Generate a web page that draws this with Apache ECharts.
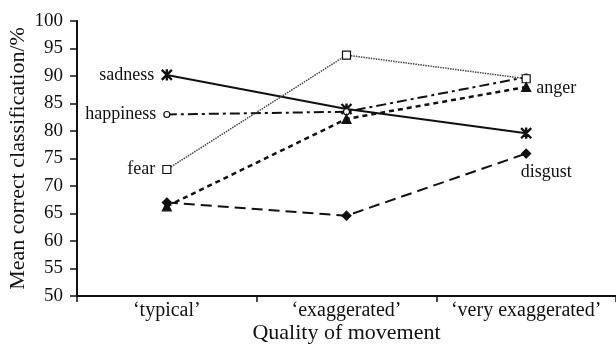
<!DOCTYPE html>
<html>
<head>
<meta charset="utf-8">
<script src="https://cdn.jsdelivr.net/npm/echarts@6/dist/echarts.min.js"></script>
<style>
  html, body { margin: 0; padding: 0; background: #fff; }
  #chart { width: 616px; height: 345px; }
</style>
</head>
<body>
<div id="chart"></div>
<script>
// Movement quality categories and mean correct classification (%) per emotion
const categories = ['\u2018typical\u2019', '\u2018exaggerated\u2019', '\u2018very exaggerated\u2019'];
const sadness   = [90.2, 84.0, 79.6];
const happiness = [83.0, 83.5, 89.8];
const fear      = [73.0, 93.8, 89.5];
const anger     = [66.3, 82.2, 88.0];
const disgust   = [67.0, 64.6, 75.9];
const yTicks = { min: 50, max: 100, interval: 5 };

const FONT = 'Liberation Serif';
const asterisk = 'path://M4.4 0 H5.6 V10 H4.4 Z M0 0.8 L0.8 0 L10 9.2 L9.2 10 Z M10 0.8 L9.2 0 L0 9.2 L0.8 10 Z';

// Attach a text label to one point of a series
function withLabel(values, idx, text, position, offset) {
  return values.map((v, i) => i === idx ? {
    value: v,
    label: {
      show: true, formatter: text, position: position, offset: offset || [0, 0],
      color: '#111', fontFamily: FONT, fontSize: 18
    }
  } : v);
}

function series(name, data, symbol, symbolSize, lineType, width, color, fill) {
  return {
    name: name, type: 'line', data: data,
    symbol: symbol, symbolSize: symbolSize, showSymbol: true,
    lineStyle: { color: color || '#111', width: width, type: lineType },
    itemStyle: { color: fill || '#111', borderColor: '#111', borderWidth: 1.2 },
    emphasis: { disabled: true },
    animation: false, z: 3
  };
}

const chart = echarts.init(document.getElementById('chart'), null, { renderer: 'canvas' });
chart.setOption({
  backgroundColor: '#fff',
  animation: false,
  grid: { left: 77, right: 0, top: 21, bottom: 49, containLabel: false, outerBoundsMode: 'none' },
  xAxis: {
    type: 'category', data: categories, boundaryGap: true,
    name: 'Quality of movement', nameLocation: 'middle', nameGap: 26, nameMoveOverlap: false,
    nameTextStyle: { color: '#111', fontFamily: FONT, fontSize: 22 },
    axisLine: { lineStyle: { color: '#111', width: 2 } },
    axisTick: { show: true, length: 6, lineStyle: { color: '#111', width: 1.5 } },
    axisLabel: { color: '#111', fontFamily: FONT, fontSize: 20, margin: 5, interval: 0, hideOverlap: false },
    splitLine: { show: false }
  },
  yAxis: {
    type: 'value', min: yTicks.min, max: yTicks.max, interval: yTicks.interval,
    name: 'Mean correct classification/%', nameLocation: 'middle', nameGap: 48, nameMoveOverlap: false,
    nameTextStyle: { color: '#111', fontFamily: FONT, fontSize: 22 },
    axisLine: { show: true, lineStyle: { color: '#111', width: 2 } },
    axisTick: { show: true, length: 7, lineStyle: { color: '#111', width: 1.5 } },
    axisLabel: { color: '#111', fontFamily: FONT, fontSize: 19, margin: 14 },
    splitLine: { show: false }
  },
  series: [
    series('sadness', withLabel(sadness, 0, 'sadness', 'left', [-2, 0]), asterisk, 10, 'solid', 2),
    series('happiness', withLabel(happiness, 0, 'happiness', 'left', [-2, 0]), 'circle', 6, [10, 4, 3, 4], 2, '#111', '#fff'),
    series('fear', withLabel(fear, 0, 'fear', 'left', [-2, 0]), 'rect', 8, [1.5, 1], 1.5, '#444', '#fff'),
    series('anger', withLabel(anger, 2, 'anger', 'right', [0, 1]), 'triangle', 9, [5, 4], 2.5),
    series('disgust', withLabel(disgust, 2, 'disgust', 'bottom', [20, 0]), 'diamond', 9, [11, 6], 2)
  ]
});
</script>
</body>
</html>
